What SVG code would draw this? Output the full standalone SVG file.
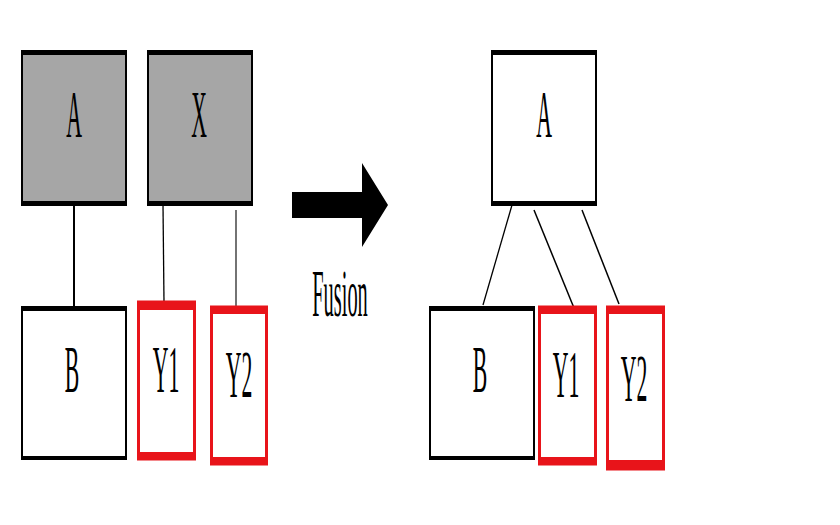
<svg xmlns="http://www.w3.org/2000/svg" width="840" height="525" viewBox="0 0 840 525">
<style>
.lbl{font-family:"Liberation Serif","Times New Roman",serif;font-size:68px;fill:#000;text-anchor:middle}
.bk{stroke:#000;stroke-width:2}
.rd{stroke:#e8141a;stroke-width:3;fill:#fff}
.bandk{fill:#000}
.bandr{fill:#e8141a}
.ln{stroke:#000;fill:none}
</style>
<rect width="840" height="525" fill="#fff"/>
<g id="connectors">
<line class="ln" x1="74" y1="205" x2="74" y2="306" stroke-width="2"/>
<line class="ln" x1="163" y1="205" x2="164" y2="302" stroke-width="1.3"/>
<line class="ln" x1="236" y1="210" x2="236" y2="307" stroke-width="1.1"/>
<line class="ln" x1="512" y1="205" x2="483" y2="305" stroke-width="1.3"/>
<line class="ln" x1="534" y1="210" x2="574" y2="308" stroke-width="1.5"/>
<line class="ln" x1="582" y1="210" x2="619" y2="304" stroke-width="1.5"/>
</g>
<g id="nodeA-left">
<rect class="bk" x="22" y="51" width="104" height="154" fill="#a6a6a6"/>
<rect class="bandk" x="21" y="50" width="106" height="5"/>
<rect class="bandk" x="21" y="201" width="106" height="5"/>
<text class="lbl" transform="translate(74,137) scale(0.32,1)">A</text>
</g>
<g id="nodeX">
<rect class="bk" x="148" y="51" width="104" height="154" fill="#a6a6a6"/>
<rect class="bandk" x="147" y="50" width="106" height="5"/>
<rect class="bandk" x="147" y="201" width="106" height="5"/>
<text class="lbl" transform="translate(199,137) scale(0.32,1)">X</text>
</g>
<g id="nodeB-left">
<rect class="bk" x="22" y="307" width="104" height="152" fill="#fff"/>
<rect class="bandk" x="21" y="306" width="106" height="5"/>
<rect class="bandk" x="21" y="456" width="106" height="4"/>
<text class="lbl" transform="translate(72,392) scale(0.32,1)">B</text>
</g>
<g id="nodeY1-left">
<rect class="rd" x="138.5" y="302" width="56" height="157"/>
<rect class="bandr" x="137" y="301" width="59" height="9"/>
<rect class="bandr" x="137" y="452" width="59" height="8"/>
<text class="lbl" transform="translate(166,392) scale(0.32,1)">Y1</text>
</g>
<g id="nodeY2-left">
<rect class="rd" x="211.5" y="307" width="55" height="157"/>
<rect class="bandr" x="210" y="306" width="58" height="8"/>
<rect class="bandr" x="210" y="457" width="58" height="8"/>
<text class="lbl" transform="translate(239,397) scale(0.32,1)">Y2</text>
</g>
<g id="arrow">
<polygon points="292,192 362,192 362,163 388,205 362,247 362,218 292,218" fill="#000"/>
<text class="lbl" transform="translate(340,316) scale(0.3,1)">Fusion</text>
</g>
<g id="nodeA-right">
<rect class="bk" x="492" y="51" width="104" height="154" fill="#fff"/>
<rect class="bandk" x="491" y="50" width="106" height="5"/>
<rect class="bandk" x="491" y="201" width="106" height="5"/>
<text class="lbl" transform="translate(544,137) scale(0.32,1)">A</text>
</g>
<g id="nodeB-right">
<rect class="bk" x="430" y="307" width="104" height="152" fill="#fff"/>
<rect class="bandk" x="429" y="306" width="106" height="5"/>
<rect class="bandk" x="429" y="456" width="106" height="4"/>
<text class="lbl" transform="translate(480,392) scale(0.32,1)">B</text>
</g>
<g id="nodeY1-right">
<rect class="rd" x="539.5" y="307" width="56" height="157"/>
<rect class="bandr" x="538" y="306" width="59" height="8"/>
<rect class="bandr" x="538" y="457" width="59" height="8"/>
<text class="lbl" transform="translate(566,397) scale(0.32,1)">Y1</text>
</g>
<g id="nodeY2-right">
<rect class="rd" x="607.5" y="307" width="56" height="162"/>
<rect class="bandr" x="606" y="306" width="59" height="8"/>
<rect class="bandr" x="606" y="460" width="59" height="10"/>
<text class="lbl" transform="translate(634,401) scale(0.32,1)">Y2</text>
</g>
</svg>
